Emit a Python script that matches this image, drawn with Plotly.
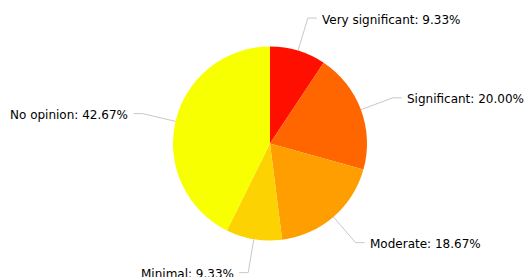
import math
import plotly.graph_objects as go

categories = ["Very significant", "Significant", "Moderate", "Minimal", "No opinion"]
percentages = [9.33, 20.00, 18.67, 9.33, 42.67]
colors = ["#FF0F00", "#FF6600", "#FF9E01", "#FCD202", "#F8FF01"]

W, H = 529, 277
cx, cy, r = 270.0, 143.5, 97.0
r_elbow = 131.0
tail = 9.0
gap = 3.0
text_dy = 1.5

fig = go.Figure()
fig.add_trace(go.Pie(
    labels=categories, values=percentages, sort=False, direction="clockwise",
    rotation=0, marker=dict(colors=colors, line=dict(width=0)),
    textinfo="none", hoverinfo="label+percent", showlegend=False,
    domain=dict(x=[(cx - r) / W, (cx + r) / W], y=[1 - (cy + r) / H, 1 - (cy - r) / H]),
))

shapes = []
annotations = []
total = sum(percentages)
cum = 0.0
for name, v in zip(categories, percentages):
    mid = (cum + v / 2) / total * 2 * math.pi
    cum += v
    s, c = math.sin(mid), math.cos(mid)
    x0, y0 = cx + r * s, cy - r * c
    x1, y1 = cx + r_elbow * s, cy - r_elbow * c
    side = 1 if s >= 0 else -1
    x2 = x1 + side * tail
    shapes.append(dict(type="path", xref="x", yref="y",
                       path=f"M{x0},{y0} L{x1},{y1} L{x2},{y1}",
                       line=dict(color="#C8C8C8", width=1)))
    annotations.append(dict(x=x2 + side * gap, y=y1 + text_dy, xref="x", yref="y",
                            text=f"{name}: {v:.2f}%", showarrow=False,
                            xanchor="left" if side > 0 else "right", yanchor="middle",
                            font=dict(family="DejaVu Sans, Verdana, sans-serif", size=12, color="#000000")))

fig.update_layout(
    width=W, height=H, margin=dict(l=0, r=0, t=0, b=0),
    paper_bgcolor="white", plot_bgcolor="rgba(0,0,0,0)",
    xaxis=dict(range=[0, W], visible=False, fixedrange=True),
    yaxis=dict(range=[H, 0], visible=False, fixedrange=True),
    shapes=shapes, annotations=annotations,
)
fig.write_html("out.html", config={"displayModeBar": False},
               post_script="document.body.style.margin='0';")
